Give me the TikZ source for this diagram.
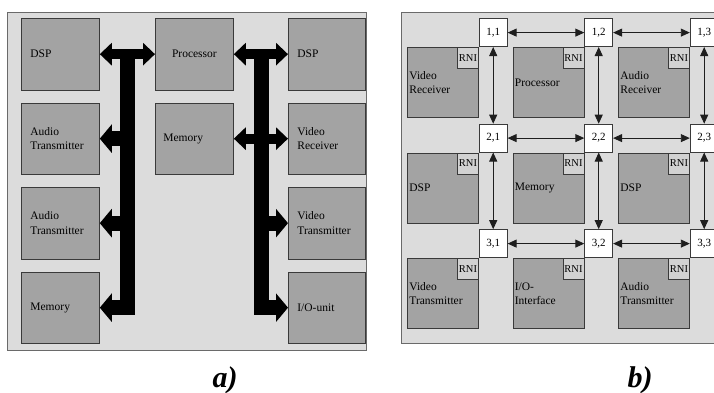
\documentclass[tikz,border=0pt]{standalone}
\usepackage{fontspec}
\setmainfont{Liberation Serif}
\usepackage{xcolor}
\usepackage{tikz}
\usetikzlibrary{arrows.meta}
\usetikzlibrary{positioning,calc}

\definecolor{panelgray}{HTML}{DCDCDC}
\definecolor{framegray}{HTML}{6A6A6A}
\definecolor{unitgray}{HTML}{A3A3A3}
\definecolor{unitline}{HTML}{3A3A3A}
\definecolor{rnigray}{HTML}{D2D2D2}
\definecolor{linkgray}{HTML}{1E1E1E}

\tikzset{
	frame/.style={draw=framegray,fill=panelgray,line width=1pt},
	unit/.style={draw=unitline,fill=unitgray,line width=0.8pt,anchor=north west,
		minimum height=71.5pt,text width=60pt,inner xsep=9pt,inner ysep=0pt,align=left,
		font=\fontsize{11.5}{14.5}\selectfont},
	module/.style={draw=unitline,fill=unitgray,line width=0.8pt,anchor=north west,
		minimum height=70pt,text width=67pt,inner xsep=2pt,inner ysep=0pt,align=left,
		font=\fontsize{11.5}{14}\selectfont},
	rni/.style={draw=unitline,fill=rnigray,line width=0.6pt,anchor=north east,
		minimum size=21pt,inner sep=0pt,font=\fontsize{10.5}{12}\selectfont},
	router/.style={draw=unitline,fill=white,line width=0.8pt,anchor=south west,
		minimum size=28pt,inner sep=0pt,font=\fontsize{11}{12}\selectfont},
	busbar/.style={line width=15pt,line cap=butt},
	busdbl/.style={line width=10pt,line cap=butt,
		{Triangle[length=12pt,width=22pt]}-{Triangle[length=12pt,width=22pt]}},
	bus/.style={line width=15pt,line cap=butt,-{Triangle[length=12pt,width=28pt]}},
	link/.style={draw=linkgray,line width=0.9pt,
		{Triangle[length=9pt,width=8pt]}-{Triangle[length=9pt,width=8pt]}},
	caption/.style={anchor=base,font=\fontsize{30}{32}\bfseries\itshape\selectfont}
}

\begin{document}
\begin{tikzpicture}[x=1pt,y=-1pt]
			\useasboundingbox (0,0) rectangle (714,392);
			\clip (0,0) rectangle (714,392);
			% a) bus
			\draw[frame] (7,12) rectangle (366,350);
			\node[unit] (dspA) at (21,18) {DSP};
			\node[unit] (atxA) at (21,102.5) {Audio\\Transmitter};
			\node[unit] (atxB) at (21,187) {Audio\\Transmitter};
			\node[unit] (memA) at (21,271.5) {Memory};
			\node[unit,align=center] (proc) at (155,18) {Processor};
			\node[unit,inner xsep=8pt,text width=62pt] (memB) at (155,102.5) {Memory};
			\node[unit,text width=59pt] (dspB) at (288,18) {DSP};
			\node[unit,text width=59pt] (vrx) at (288,102.5) {Video\\Receiver};
			\node[unit,text width=59pt] (vtx) at (288,187) {Video\\Transmitter};
			\node[unit,text width=59pt] (io) at (288,271.5) {I/O-unit};
			\coordinate (busL) at (127.5,49);
			\coordinate (busLend) at (127.5,315);
			\coordinate (busR) at (261,49);
			\coordinate (busRend) at (261,315);
			\draw[busbar] (busL) -- (busLend);
			\draw[busbar] (busR) -- (busRend);
			\draw[busdbl] (dspA.east) -- (proc.west);
			\draw[busdbl] (proc.east) -- (dspB.west);
			\draw[busdbl] (memB.east) -- (vrx.west);
			\draw[bus] (busL |- atxA.east) -- (atxA.east);
			\draw[bus] (busL |- atxB.east) -- (atxB.east);
			\draw[bus] (busL |- memA.east) -- (memA.east);
			\draw[bus] (busR |- vtx.west) -- (vtx.west);
			\draw[bus] (busR |- io.west) -- (io.west);
			\node[caption] (capA) at (225,387) {a)};
			% b) network
			\draw[frame] (401,12) rectangle (730,343);
			\node[module] (mA) at (407,47) {Video\\Receiver};
			\node[module] (mB) at (512.5,47) {Processor};
			\node[module] (mC) at (618,47) {Audio\\Receiver};
			\node[module] (mD) at (407,152.5) {DSP};
			\node[module] (mE) at (512.5,152.5) {Memory};
			\node[module] (mF) at (618,152.5) {DSP};
			\node[module] (mG) at (407,258) {Video\\Transmitter};
			\node[module] (mH) at (512.5,258) {I/O-\\Interface};
			\node[module] (mI) at (618,258) {Audio\\Transmitter};
			\node[rni] (rniA) at (mA.north east) {RNI};
			\node[rni] (rniB) at (mB.north east) {RNI};
			\node[rni] (rniC) at (mC.north east) {RNI};
			\node[rni] (rniD) at (mD.north east) {RNI};
			\node[rni] (rniE) at (mE.north east) {RNI};
			\node[rni] (rniF) at (mF.north east) {RNI};
			\node[rni] (rniG) at (mG.north east) {RNI};
			\node[rni] (rniH) at (mH.north east) {RNI};
			\node[rni] (rniI) at (mI.north east) {RNI};
			\node[router] (r11) at (mA.north east) {1,1};
			\node[router] (r12) at (mB.north east) {1,2};
			\node[router] (r13) at (mC.north east) {1,3};
			\node[router] (r21) at (mD.north east) {2,1};
			\node[router] (r22) at (mE.north east) {2,2};
			\node[router] (r23) at (mF.north east) {2,3};
			\node[router] (r31) at (mG.north east) {3,1};
			\node[router] (r32) at (mH.north east) {3,2};
			\node[router] (r33) at (mI.north east) {3,3};
			\draw[link] (r11) -- (r12);
			\draw[link] (r12) -- (r13);
			\draw[link] (r21) -- (r22);
			\draw[link] (r22) -- (r23);
			\draw[link] (r31) -- (r32);
			\draw[link] (r32) -- (r33);
			\draw[link] (r11) -- (r21);
			\draw[link] (r21) -- (r31);
			\draw[link] (r12) -- (r22);
			\draw[link] (r22) -- (r32);
			\draw[link] (r13) -- (r23);
			\draw[link] (r23) -- (r33);
			\node[caption] (capB) at (640,387) {b)};
		\end{tikzpicture}
\end{document}
